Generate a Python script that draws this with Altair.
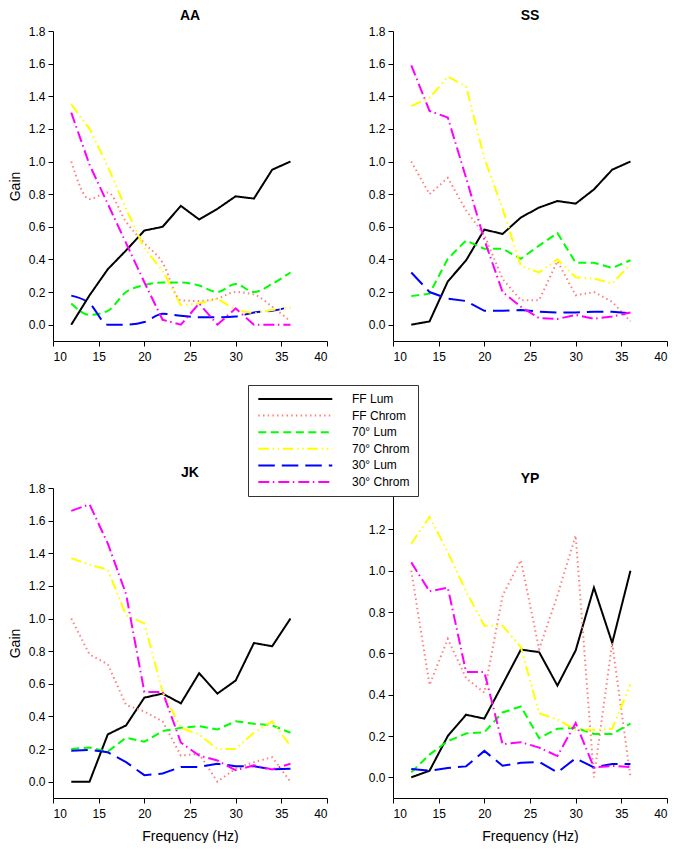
import altair as alt
import pandas as pd

freq = [12, 14, 16, 18, 20, 22, 24, 26, 28, 30, 32, 34, 36]
x_ticks = [10, 15, 20, 25, 30, 35, 40]
y_ticks_full = [0.0, 0.2, 0.4, 0.6, 0.8, 1.0, 1.2, 1.4, 1.6, 1.8]
y_ticks_yp = [0.0, 0.2, 0.4, 0.6, 0.8, 1.0, 1.2]

series_names = ["FF Lum", "FF Chrom", "70° Lum", "70° Chrom", "30° Lum", "30° Chrom"]
series_colors = ["#000000", "#ff8080", "#00ff00", "#ffff00", "#0000ff", "#ff00ff"]
series_dash = [[1, 0], [1.5, 3.2], [8, 4.5], [10.5, 4, 1.5, 3.5, 1.5, 3.5], [16.5, 7], [11, 3.5, 1.5, 4]]

# ---- AA ----
aa_ff_lum = [0.0, 0.18, 0.34, 0.455, 0.577, 0.60, 0.728, 0.645, 0.71, 0.787, 0.773, 0.95, 1.0]
aa_ff_chrom = [1.0, 0.77, 0.81, 0.63, 0.50, 0.38, 0.15, 0.145, 0.16, 0.20, 0.185, 0.11, 0.02]
aa_70_lum = [0.13, 0.06, 0.085, 0.20, 0.243, 0.259, 0.259, 0.24, 0.20, 0.25, 0.20, 0.25, 0.32]
aa_70_chrom = [1.35, 1.20, 0.97, 0.71, 0.47, 0.33, 0.12, 0.13, 0.16, 0.09, 0.07, 0.09, 0.105]
aa_30_lum = [0.178, 0.131, 0.0, 0.0, 0.016, 0.067, 0.055, 0.045, 0.045, 0.05, 0.075, 0.085, 0.11]
aa_30_chrom = [1.30, 0.98, 0.74, 0.50, 0.26, 0.03, 0.0, 0.13, 0.0, 0.10, 0.0, 0.0, 0.0]

# ---- SS ----
ss_ff_lum = [0.0, 0.02, 0.265, 0.394, 0.583, 0.556, 0.657, 0.718, 0.758, 0.742, 0.829, 0.95, 1.0]
ss_ff_chrom = [1.0, 0.80, 0.90, 0.70, 0.55, 0.28, 0.15, 0.15, 0.39, 0.18, 0.20, 0.14, 0.02]
ss_70_lum = [0.175, 0.19, 0.404, 0.516, 0.465, 0.465, 0.404, 0.485, 0.562, 0.38, 0.38, 0.348, 0.395]
ss_70_chrom = [1.34, 1.39, 1.52, 1.46, 1.02, 0.71, 0.36, 0.32, 0.40, 0.29, 0.283, 0.253, 0.37]
ss_30_lum = [0.32, 0.20, 0.16, 0.145, 0.085, 0.085, 0.09, 0.08, 0.075, 0.075, 0.08, 0.08, 0.07]
ss_30_chrom = [1.59, 1.31, 1.27, 0.90, 0.52, 0.20, 0.11, 0.04, 0.035, 0.06, 0.036, 0.05, 0.075]

# ---- JK ----
jk_ff_lum = [0.0, 0.0, 0.29, 0.345, 0.515, 0.54, 0.48, 0.665, 0.54, 0.62, 0.85, 0.83, 1.0]
jk_ff_chrom = [1.0, 0.78, 0.72, 0.47, 0.43, 0.37, 0.16, 0.17, 0.0, 0.08, 0.12, 0.15, 0.0]
jk_70_lum = [0.20, 0.21, 0.185, 0.27, 0.245, 0.31, 0.33, 0.34, 0.32, 0.37, 0.355, 0.345, 0.30]
jk_70_chrom = [1.37, 1.33, 1.30, 1.02, 0.97, 0.55, 0.33, 0.29, 0.20, 0.20, 0.30, 0.37, 0.22]
jk_30_lum = [0.19, 0.195, 0.18, 0.12, 0.04, 0.05, 0.09, 0.09, 0.11, 0.095, 0.095, 0.075, 0.08]
jk_30_chrom = [1.66, 1.70, 1.46, 1.15, 0.55, 0.55, 0.24, 0.16, 0.13, 0.07, 0.10, 0.075, 0.11]

# ---- YP ----
yp_ff_lum = [0.0, 0.032, 0.20, 0.303, 0.284, 0.45, 0.618, 0.606, 0.444, 0.614, 0.918, 0.65, 1.0]
yp_ff_chrom = [1.0, 0.447, 0.67, 0.48, 0.41, 0.88, 1.05, 0.62, 0.88, 1.17, 0.0, 0.65, 0.0]
yp_70_lum = [0.024, 0.11, 0.175, 0.212, 0.218, 0.314, 0.343, 0.19, 0.235, 0.24, 0.21, 0.21, 0.26]
yp_70_chrom = [1.13, 1.26, 1.09, 0.90, 0.734, 0.734, 0.63, 0.31, 0.28, 0.23, 0.23, 0.235, 0.45]
yp_30_lum = [0.04, 0.032, 0.045, 0.053, 0.128, 0.056, 0.07, 0.075, 0.024, 0.092, 0.048, 0.065, 0.065]
yp_30_chrom = [1.04, 0.90, 0.918, 0.51, 0.51, 0.16, 0.17, 0.144, 0.103, 0.263, 0.048, 0.055, 0.05]

subjects = {
    "AA": [aa_ff_lum, aa_ff_chrom, aa_70_lum, aa_70_chrom, aa_30_lum, aa_30_chrom],
    "SS": [ss_ff_lum, ss_ff_chrom, ss_70_lum, ss_70_chrom, ss_30_lum, ss_30_chrom],
    "JK": [jk_ff_lum, jk_ff_chrom, jk_70_lum, jk_70_chrom, jk_30_lum, jk_30_chrom],
    "YP": [yp_ff_lum, yp_ff_chrom, yp_70_lum, yp_70_chrom, yp_30_lum, yp_30_chrom],
}

rows = []
for subj, lists in subjects.items():
    for name, vals in zip(series_names, lists):
        for f, v in zip(freq, vals):
            rows.append({"subject": subj, "freq": f, "series": name, "gain": v})
df = pd.DataFrame(rows)

W = 274
H = 310


def panel(subj, y_domain, y_ticks, y_title, x_title, smooth=()):
    data = df[df.subject == subj]
    x_axis = alt.Axis(values=x_ticks, labelPadding=5, titlePadding=10, title=x_title) if x_title else \
        alt.Axis(values=x_ticks, labelPadding=5, title=None)
    y_axis = alt.Axis(values=y_ticks, format=".1f", labelPadding=3, titlePadding=6, title=y_title) if y_title else \
        alt.Axis(values=y_ticks, format=".1f", labelPadding=3, title=None)
    enc = dict(
        x=alt.X("freq:Q", scale=alt.Scale(domain=[10, 40], nice=False, zero=False), axis=x_axis),
        y=alt.Y("gain:Q", scale=alt.Scale(domain=y_domain, nice=False, zero=False), axis=y_axis),
        color=alt.Color("series:N", scale=alt.Scale(domain=series_names, range=series_colors), title=None),
        strokeDash=alt.StrokeDash("series:N", scale=alt.Scale(domain=series_names, range=series_dash), title=None),
    )
    base = alt.Chart(data)
    if smooth:
        lin = base.transform_filter(
            ~alt.FieldOneOfPredicate(field="series", oneOf=list(smooth))
        ).mark_line(strokeWidth=2).encode(**enc)
        sm = base.transform_filter(
            alt.FieldOneOfPredicate(field="series", oneOf=list(smooth))
        ).mark_line(interpolate="monotone", strokeWidth=2).encode(**enc)
        ch = alt.layer(sm, lin)
    else:
        ch = base.mark_line(strokeWidth=2).encode(**enc)
    return ch.properties(width=W, height=H, title=alt.TitleParams(subj, anchor="middle"))


aa = panel("AA", [-0.1, 1.8], y_ticks_full, "Gain", None, smooth=("FF Chrom", "70° Lum", "30° Lum"))
ss = panel("SS", [-0.1, 1.8], y_ticks_full, None, None)
jk = panel("JK", [-0.1, 1.8], y_ticks_full, "Gain", "Frequency (Hz)")
yp = panel("YP", [-0.1, 1.4], y_ticks_yp, None, "Frequency (Hz)")

chart = alt.concat(
    aa, ss, jk, yp, columns=2, spacing={"row": 147, "column": 66}, bounds="flush"
).properties(
    padding={"left": 0, "right": 0, "top": 1, "bottom": 0}
).configure_axis(
    labelFont="Liberation Sans", labelFontSize=12, labelColor="black",
    titleFont="Liberation Sans", titleFontSize=14, titleFontWeight="normal", titleColor="black",
    domainColor="black", tickColor="black", tickSize=5, grid=False,
).configure_view(
    stroke=None
).configure_title(
    font="Liberation Sans", fontSize=14, fontWeight="bold", color="black", offset=2
).configure_legend(
    orient="none", legendX=195, legendY=354,
    fillColor="white", strokeColor="#333333", padding=8,
    symbolType="M-1,0H19", symbolSize=54.76, symbolStrokeWidth=2,
    symbolOffset=0, rowPadding=4.6,
    labelFont="Liberation Sans", labelFontSize=12, labelOffset=84, labelColor="black",
    labelAlign="left",
)

chart.save("out.html", embed_options={"renderer": "svg", "actions": False})
